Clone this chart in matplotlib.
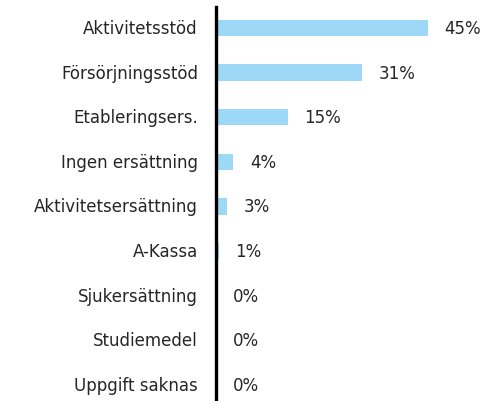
import matplotlib.pyplot as plt
import numpy as np

categories = ['Aktivitetsstöd', 'Försörjningsstöd', 'Etableringsers.', 'Ingen ersättning',
              'Aktivitetsersättning', 'A-Kassa', 'Sjukersättning', 'Studiemedel', 'Uppgift saknas']
values = [45.0, 31.0, 15.2, 3.7, 2.4, 0.6, 0.0, 0.0, 0.0]
labels = ['45%', '31%', '15%', '4%', '3%', '1%', '0%', '0%', '0%']

plt.rcParams['font.family'] = ['DejaVu Sans']

fig = plt.figure(figsize=(4.84, 4.02), dpi=100)
ax = fig.add_axes([216 / 484, 0, 268 / 484, 394 / 402])

y = np.arange(len(categories))
ax.barh(y, values, height=0.37, color='#9dd8f7')

# procentetiketter till höger om staplarna
for yi, v, lab in zip(y, values, labels):
    ax.annotate(lab, (v, yi), xytext=(12, 0), textcoords='offset points',
                ha='left', va='center', fontsize=12, color='#262626')

ax.set_xlim(0, 56.9)
ax.set_ylim(8.36, -0.47)
ax.set_yticks(y)
ax.set_yticklabels(categories, fontsize=12, color='#262626', va='center')
ax.tick_params(axis='y', length=0, pad=13)
ax.set_xticks([])

for s in ['top', 'right', 'bottom']:
    ax.spines[s].set_visible(False)
ax.spines['left'].set_linewidth(2.4)
ax.spines['left'].set_color('black')

plt.savefig('out.png', dpi=100)
